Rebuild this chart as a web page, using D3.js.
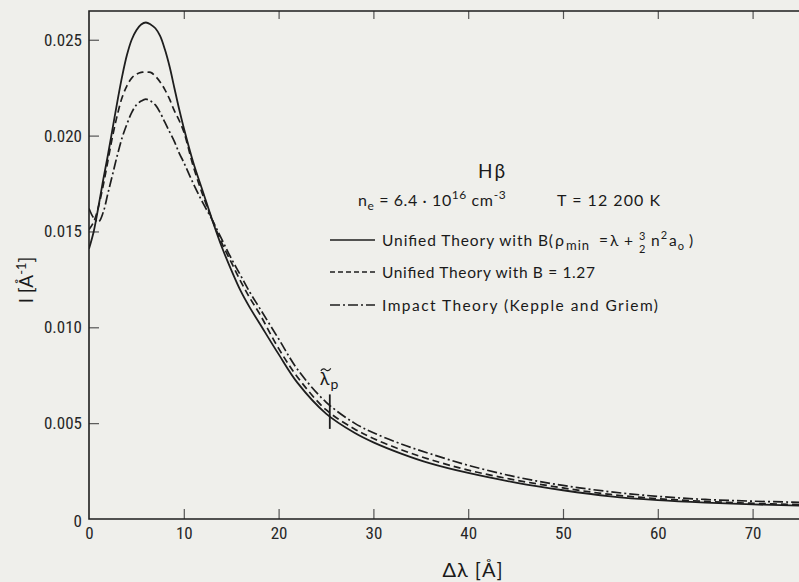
<!DOCTYPE html>
<html>
<head>
<meta charset="utf-8">
<script src="https://cdn.jsdelivr.net/npm/d3@7"></script>
<style>
  html, body { margin: 0; padding: 0; background: #efefeb; }
  svg { display: block; }
  .tick text { font-family: "Liberation Sans Narrow", "Roboto Condensed", "DejaVu Sans Condensed", "Liberation Sans", sans-serif; font-size: 17px; fill: #262626; }
  .lbl { font-family: "Lato", "Liberation Sans", sans-serif; fill: #1a1a1a; }
</style>
</head>
<body>
<svg id="chart" width="799" height="582"></svg>
<script>
// ---- data ----
const deltaLambda = [0,0.5,1,1.5,2,2.5,3,3.5,4,4.5,5,5.5,6,6.5,7,7.5,8,8.5,9,9.5,10,11,12,13,14,15,16,17,18,20,22,25,28,30,33,36,40,45,50,55,60,65,70,75];
const unifiedBrho = [0.0141,0.0150,0.0163,0.0177,0.0190,0.0204,0.0218,0.0231,0.0242,0.0250,0.0255,0.0258,0.0259,0.0258,0.0256,0.0252,0.0245,0.0236,0.0225,0.0214,0.0204,0.0186,0.0171,0.0156,0.0142,0.0130,0.0119,0.0110,0.0102,0.0086,0.0071,0.0055,0.0045,0.0040,0.0034,0.0029,0.0024,0.0019,0.0015,0.00118,0.00098,0.00085,0.00076,0.0007];
const unifiedB127 = [0.0151,0.0155,0.0163,0.0174,0.0187,0.0200,0.0211,0.0220,0.0226,0.0230,0.0232,0.0233,0.0233,0.0233,0.0231,0.0228,0.0224,0.0219,0.0213,0.0208,0.0202,0.0184,0.0169,0.0156,0.0144,0.0134,0.0124,0.0115,0.0107,0.0089,0.0074,0.0057,0.0047,0.0042,0.0036,0.0031,0.00255,0.00203,0.00162,0.00128,0.00106,0.00092,0.00082,0.00075];
const impactKG = [0.0162,0.0157,0.0155,0.0160,0.0170,0.0180,0.0190,0.0199,0.0206,0.0212,0.0216,0.0218,0.0219,0.0218,0.0216,0.0212,0.0207,0.0202,0.0197,0.0191,0.0186,0.0175,0.0165,0.0156,0.0146,0.0136,0.0127,0.0118,0.0110,0.0094,0.0078,0.0061,0.0050,0.0045,0.0039,0.0034,0.0028,0.0022,0.00175,0.00142,0.00118,0.00102,0.00093,0.00087];
const xTicks = [0,10,20,30,40,50,60,70];
const xTickLabels = ["0","10","20","30","40","50","60","70"];
const yTicks = [0,0.005,0.010,0.015,0.020,0.025];
const yTickLabels = ["0","0.005","0.010","0.015","0.020","0.025"];
const lambdaP = 25.4;
const lambdaPRange = [0.0047, 0.0065];
const seriesNames = ["Unified Theory with B(", "Unified Theory with B = 1.27", "Impact Theory (Kepple  and Griem)"];

// ---- layout ----
const svg = d3.select("#chart");
const L = 89, R = 800, T = 11, B = 519;
const x = d3.scaleLinear().domain([0, 75]).range([L, R]);
const y = d3.scaleLinear().domain([0, 0.0265]).range([B, T]);
const ink = "#1e1e1e";

svg.append("defs").append("clipPath").attr("id","clip")
  .append("rect").attr("x", L).attr("y", T).attr("width", R - L).attr("height", B - T);

// axes
const gx = svg.append("g").attr("transform", `translate(0,${B})`)
  .call(d3.axisBottom(x).tickValues(xTicks).tickFormat((d,i)=>xTickLabels[i]).tickSize(-10).tickPadding(8));
const gxTop = svg.append("g").attr("transform", `translate(0,${T})`)
  .call(d3.axisTop(x).tickValues(xTicks.slice(1)).tickFormat("").tickSize(-8));
const gy = svg.append("g").attr("transform", `translate(${L},0)`)
  .call(d3.axisLeft(y).tickValues(yTicks).tickFormat((d,i)=>yTickLabels[i]).tickSize(-10).tickPadding(7));
[gx, gxTop, gy].forEach(g => {
  g.select(".domain").remove();
  g.selectAll(".tick line").attr("stroke", "#555").attr("stroke-width", 1.2);
});
gy.selectAll(".tick").filter(d => d === 0).select("line").remove();
gx.selectAll(".tick").filter(d => d === 0).select("line").remove();
gy.selectAll(".tick").filter(d => d === 0).select("text").attr("dy", "0.45em");

// frame
svg.append("path").attr("fill","none").attr("stroke", ink).attr("stroke-width", 1.6)
  .attr("d", `M${R},${T}H${L}V${B}H${R}`);

// curves
const line = d3.line().x((d,i)=>x(deltaLambda[i])).y(d=>y(d)).curve(d3.curveCatmullRom.alpha(0.5));
const plot = svg.append("g").attr("clip-path","url(#clip)");
plot.append("path").attr("d", line(unifiedBrho)).attr("fill","none").attr("stroke", ink).attr("stroke-width", 1.8);
plot.append("path").attr("d", line(unifiedB127)).attr("fill","none").attr("stroke", ink).attr("stroke-width", 1.7).attr("stroke-dasharray","7,4");
plot.append("path").attr("d", line(impactKG)).attr("fill","none").attr("stroke", ink).attr("stroke-width", 1.7).attr("stroke-dasharray","10,3,2,3");

// lambda_p marker
const lpx = x(lambdaP), lpy = y(lambdaPRange[1]);
svg.append("line").attr("x1", lpx).attr("x2", lpx)
  .attr("y1", y(lambdaPRange[0])).attr("y2", lpy).attr("stroke", ink).attr("stroke-width", 1.8);
const lp = svg.append("text").attr("class","lbl").attr("x", lpx - 10).attr("y", lpy - 9).attr("font-size", 18);
lp.append("tspan").text("λ");
lp.append("tspan").attr("font-size", 14).attr("dy", 4).attr("dx", 1).text("p");
// tilde over lambda
const tx0 = lpx - 9, ty0 = lpy - 25;
svg.append("path").attr("fill","none").attr("stroke", ink).attr("stroke-width", 1.1)
  .attr("d", `M${tx0},${ty0+1.5} C${tx0+2},${ty0-1.5} ${tx0+4},${ty0-0.5} ${tx0+5},${ty0+0.5} S${tx0+8},${ty0+2} ${tx0+10},${ty0-1}`);

// annotation
const hb = svg.append("text").attr("class","lbl").attr("x", 478).attr("y", 178).attr("font-size", 19);
hb.append("tspan").text("H");
hb.append("tspan").attr("dx", 2).text("β");

const ne = svg.append("text").attr("class","lbl").attr("x", 358).attr("y", 206).attr("font-size", 16).attr("letter-spacing", 0.6);
ne.append("tspan").text("n");
ne.append("tspan").attr("font-size", 12).attr("dy", 4).text("e");
ne.append("tspan").attr("dy", -4).text(" = 6.4 · 10");
ne.append("tspan").attr("font-size", 12).attr("dy", -7).text("16");
ne.append("tspan").attr("dy", 7).text(" cm");
ne.append("tspan").attr("font-size", 12).attr("dy", -7).text("-3");
svg.append("text").attr("class","lbl").attr("x", 557).attr("y", 206).attr("font-size", 16)
  .attr("textLength", 103).attr("lengthAdjust","spacing").text("T = 12 200  K");

// legend
const rows = [246, 278, 311];
const sx0 = 330, sx1 = 375, tx = 382;
const dashes = [null, "5,3", "10,3,2,3"];
rows.forEach((ry, i) => {
  svg.append("line").attr("x1", sx0).attr("x2", sx1).attr("y1", ry - 6).attr("y2", ry - 6)
    .attr("stroke", ink).attr("stroke-width", 1.6).attr("stroke-dasharray", dashes[i]);
});
svg.append("text").attr("class","lbl").attr("x", tx).attr("y", rows[0]).attr("font-size", 15.5)
  .attr("textLength", 171).attr("lengthAdjust","spacing").text(seriesNames[0]);
const r1 = svg.append("text").attr("class","lbl").attr("x", 555).attr("y", rows[0]).attr("font-size", 16);
r1.append("tspan").text("ρ");
r1.append("tspan").attr("font-size", 13).attr("dy", 4).attr("dx", 2).attr("letter-spacing", 1).text("min");
[["=", 599], ["λ", 610], ["+", 624]].forEach(([s, px]) => {
  svg.append("text").attr("class","lbl").attr("x", px).attr("y", rows[0]).attr("font-size", 15.5).text(s);
});
svg.append("text").attr("class","lbl").attr("x", 639).attr("y", rows[0] - 6).attr("font-size", 11).text("3");
svg.append("text").attr("class","lbl").attr("x", 639).attr("y", rows[0] + 7).attr("font-size", 11).text("2");
const r2 = svg.append("text").attr("class","lbl").attr("x", 651).attr("y", rows[0]).attr("font-size", 15.5);
r2.append("tspan").text("n");
r2.append("tspan").attr("font-size", 11).attr("dy", -7).attr("dx", 1).text("2");
r2.append("tspan").attr("dy", 7).attr("dx", 2).text("a");
r2.append("tspan").attr("font-size", 11).attr("dy", 4).attr("dx", 1).text("o");
r2.append("tspan").attr("dy", -4).attr("dx", 5).text(")");
svg.append("text").attr("class","lbl").attr("x", tx).attr("y", rows[1]).attr("font-size", 15.5)
  .attr("textLength", 213).attr("lengthAdjust","spacing").text(seriesNames[1]);
svg.append("text").attr("class","lbl").attr("x", tx).attr("y", rows[2]).attr("font-size", 15.5)
  .attr("textLength", 276).attr("lengthAdjust","spacing").text(seriesNames[2]);

// axis titles
const xt = svg.append("text").attr("class","lbl").attr("x", 473).attr("y", 577).attr("text-anchor","middle").attr("font-size", 20).attr("letter-spacing", 1);
xt.append("tspan").text("Δλ [Å]");
const yt = svg.append("text").attr("class","lbl").attr("transform", "translate(33,280) rotate(-90)")
  .attr("text-anchor","middle").attr("font-size", 19);
yt.append("tspan").text("I [Å");
yt.append("tspan").attr("font-size", 13).attr("dy", -7).text("-1");
yt.append("tspan").attr("dy", 7).text("]");
</script>
</body>
</html>
